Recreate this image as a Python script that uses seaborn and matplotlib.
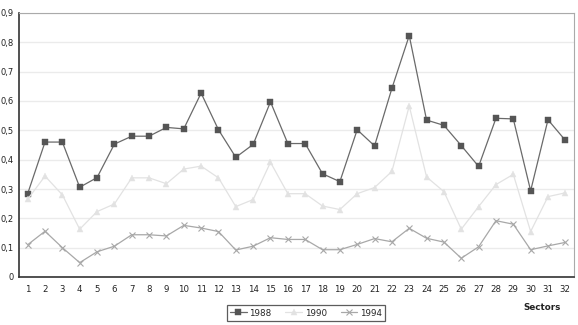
import matplotlib
matplotlib.use("Agg")
import matplotlib.pyplot as plt
import seaborn as sns
import pandas as pd
import numpy as np
from matplotlib.ticker import FixedLocator

sectors = list(range(1, 33))
v1988 = [0.284, 0.46, 0.46, 0.306, 0.339, 0.453, 0.48, 0.48, 0.51, 0.505, 0.627, 0.502,
         0.408, 0.452, 0.597, 0.455, 0.455, 0.352, 0.325, 0.502, 0.447, 0.643, 0.823, 0.535,
         0.517, 0.448, 0.377, 0.541, 0.539, 0.294, 0.536, 0.466]
v1990 = [0.265, 0.344, 0.28, 0.163, 0.223, 0.249, 0.338, 0.338, 0.318, 0.368, 0.378, 0.338,
         0.24, 0.264, 0.391, 0.284, 0.284, 0.242, 0.23, 0.284, 0.305, 0.36, 0.583, 0.341,
         0.291, 0.163, 0.24, 0.315, 0.35, 0.155, 0.274, 0.287]
v1994 = [0.11, 0.156, 0.1, 0.049, 0.086, 0.105, 0.144, 0.144, 0.14, 0.176, 0.167, 0.155,
         0.092, 0.105, 0.134, 0.128, 0.128, 0.093, 0.093, 0.111, 0.131, 0.12, 0.166, 0.132,
         0.119, 0.064, 0.103, 0.192, 0.18, 0.093, 0.106, 0.118]
ytick_vals = [0, 0.1, 0.2, 0.3, 0.4, 0.5, 0.6, 0.7, 0.8, 0.9]
ytick_labels = ["0", "0,1", "0,2", "0,3", "0,4", "0,5", "0,6", "0,7", "0,8", "0,9"]

sns.set_style("white")
plt.rcParams['font.family'] = ['DejaVu Sans']

fig = plt.figure(figsize=(5.78, 3.25), dpi=100)
ax = fig.add_axes([19/578, 1-277/325, (574-19)/578, (277-13)/325])

styles = [
    ("1988", v1988, "#6a6a6a", "s", 4.0, "#555555"),
    ("1990", v1990, "#e2e2e2", "^", 4.0, "#e2e2e2"),
    ("1994", v1994, "#a8a8a8", "x", 4.5, "#a8a8a8"),
]
for name, vals, col, mk, ms, mcol in styles:
    df = pd.DataFrame({"Sector": sectors, "Value": vals})
    sns.lineplot(data=df, x="Sector", y="Value", ax=ax, color=col, linewidth=0.9,
                 marker=mk, markersize=ms, markerfacecolor=mcol, markeredgecolor=mcol,
                 markeredgewidth=0.8 if mk == "x" else 0.3, label=name)

ax.set_xlim(0.5, 32.5)
ax.set_ylim(0, 0.9)
ax.set_xticks(sectors)
ax.set_xticklabels([str(s) for s in sectors], fontsize=6.2, color="#222222")
ax.xaxis.set_minor_locator(FixedLocator(np.arange(0.5, 33, 1)))
ax.tick_params(axis="x", which="major", length=0, pad=6)
ax.tick_params(axis="x", which="minor", length=3.5, width=0.8, color="#333333", direction="out")
ax.set_yticks(ytick_vals)
ax.set_yticklabels(ytick_labels, fontsize=6.0, color="#222222")
ax.tick_params(axis="y", which="major", length=2.5, width=0.8, color="#333333", pad=1.5, direction="out")
ax.set_xlabel("")
ax.set_ylabel("")
ax.grid(axis="y", color="#ebebeb", linewidth=1.0)
ax.set_axisbelow(True)

for s in ["left", "bottom"]:
    ax.spines[s].set_color("#333333")
    ax.spines[s].set_linewidth(1.2)
for s in ["top", "right"]:
    ax.spines[s].set_color("#aaaaaa")
    ax.spines[s].set_linewidth(0.8)
    ax.spines[s].set_visible(True)

fig.text(561/578, 1-308/325, "Sectors", fontsize=6.3, fontweight="bold", ha="right", va="center", color="#222222")

leg = ax.legend(loc="center", bbox_to_anchor=(306/578, 1-313/325), bbox_transform=fig.transFigure,
                ncol=3, frameon=True, fancybox=False, fontsize=6.3, handlelength=1.9,
                columnspacing=1.6, borderpad=0.35, handletextpad=0.3, borderaxespad=0)
leg.get_frame().set_edgecolor("#333333")
leg.get_frame().set_linewidth(0.9)

fig.savefig("out.png", dpi=100)
